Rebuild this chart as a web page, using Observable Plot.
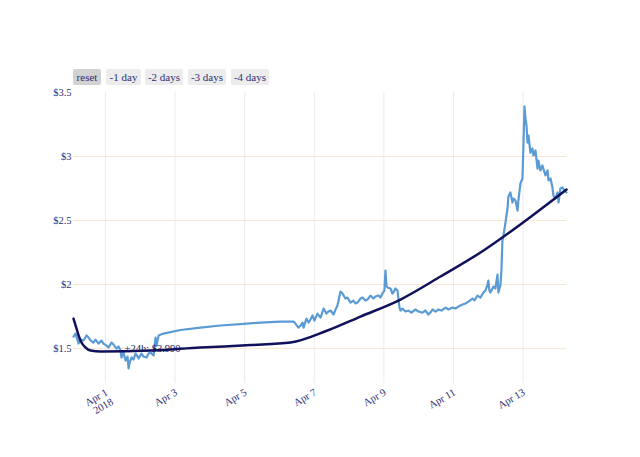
<!DOCTYPE html>
<html><head><meta charset="utf-8">
<script src="https://cdn.jsdelivr.net/npm/d3@7"></script>
<script src="https://cdn.jsdelivr.net/npm/@observablehq/plot@0.6"></script>
<style>
body{margin:0;background:#fff;font-family:"Liberation Serif",serif}
#wrap{position:relative;width:640px;height:457px}
.btn{position:absolute;top:69px;height:16px;line-height:16px;font-size:11px;color:#2f2f78;background:#ececec;border-radius:2px;text-align:center}
.btn.active{background:#d2d2d2}
</style></head><body>
<div id="wrap"></div>
<script>
// hours since 2018-03-31 00:00 UTC
const priceHours = [1.9,3.3,5.4,6.8,8.8,10.9,12.3,13.7,15.7,17.1,19.2,21.2,22.6,24.7,26.1,28.1,29.5,31.6,33.0,34.3,35.0,36.4,37.8,39.2,39.9,40.6,42.0,43.3,44.7,46.1,46.8,48.8,50.2,52.3,53.7,55.0,57.1,58.5,59.2,60.6,64.0,
 75.7,89.5,103.3,117.1,130.9,144.7,151.6,153.7,
 155.0,157.1,158.5,159.9,160.6,162.6,164.0,165.4,166.8,168.1,170.2,172.3,174.4,176.4,177.8,179.2,181.3,182.7,184.0,186.1,187.5,189.5,190.9,193.0,195.0,196.4,197.8,199.9,201.2,203.3,204.7,206.8,208.8,210.2,212.3,213.7,215.0,216.4,217.1,217.8,218.5,220.6,221.9,222.6,224.0,225.4,226.8,227.5,228.8,230.9,233.0,235.0,237.8,239.9,242.6,244.7,246.7,248.1,249.5,251.6,253.7,255.8,258.5,260.6,263.3,265.4,267.5,270.2,272.3,274.4,277.1,278.5,280.6,282.6,284.7,286.1,287.5,288.1,288.8,289.5,291.6,292.9,294.4,295.0,296.4,297.1,297.8,298.5,299.9,301.3,301.9,303.3,304.7,305.4,306.8,308.2,308.8,310.2,311.6,312.3,313.0,313.7,314.4,315.1,315.8,317.1,318.5,319.2,320.6,322.0,322.6,324.0,325.4,327.5,328.9,329.6,331.0,332.3,333.0,334.4,335.8,336.5,337.8,339.2,340.6,342.0];
const priceValues = [1.594,1.617,1.539,1.570,1.5625,1.602,1.586,1.5625,1.547,1.570,1.539,1.5625,1.539,1.523,1.508,1.547,1.531,1.5,1.516,1.484,1.430,1.469,1.406,1.4375,1.344,1.391,1.430,1.414,1.461,1.4375,1.422,1.461,1.4375,1.430,1.461,1.469,1.445,1.586,1.523,1.602,1.617,
 1.645,1.664,1.68,1.691,1.703,1.711,1.711,1.711,
 1.695,1.664,1.680,1.703,1.664,1.734,1.703,1.727,1.758,1.719,1.773,1.742,1.8125,1.773,1.789,1.797,1.766,1.805,1.836,1.945,1.930,1.891,1.898,1.859,1.875,1.852,1.859,1.891,1.898,1.875,1.883,1.914,1.891,1.906,1.914,1.898,1.930,1.953,2.109,1.992,1.977,1.969,1.930,1.9375,1.969,1.953,1.820,1.797,1.8125,1.789,1.797,1.781,1.805,1.789,1.781,1.797,1.766,1.781,1.805,1.789,1.805,1.797,1.820,1.805,1.820,1.8125,1.828,1.844,1.852,1.867,1.891,1.875,1.914,1.898,1.9375,1.953,2.0,2.031,1.953,1.9375,1.984,1.969,2.078,1.9375,1.992,2.109,2.344,2.383,2.484,2.594,2.6875,2.719,2.641,2.672,2.656,2.578,2.656,2.789,2.828,3.086,3.391,3.297,3.242,3.109,3.164,3.031,3.0625,3.008,3.047,2.906,2.969,2.891,2.930,2.852,2.891,2.8125,2.828,2.758,2.695,2.672,2.719,2.641,2.75,2.758,2.734,2.719];
const trendHours = [1.9,4.0,5.4,7.4,10.2,13.7,20.6,55.0,89.5,124.0,151.6,177.1,199.9,227.5,255.1,284.8,310.2,342.0];
const trendValues = [1.734,1.656,1.602,1.547,1.508,1.484,1.477,1.484,1.508,1.527,1.547,1.641,1.75,1.883,2.0625,2.266,2.469,2.742];
const tickHours = [24,72,120,168,216,264,312];
const tickLabels = ["Apr 1\n2018","Apr 3","Apr 5","Apr 7","Apr 9","Apr 11","Apr 13"];
const yTicks = [1.5,2,2.5,3,3.5];
const yTickLabels = ["$1.5","$2","$2.5","$3","$3.5"];
const gridValues = [1.5,2,2.5,3];
const buttonLabels = ["reset","-1 day","-2 days","-3 days","-4 days"];
const annotationHours = 56.4, annotationValue = 1.5, annotationText = "+24h: $3.990";

const t0 = Date.UTC(2018,2,31);
const toDate = h => new Date(t0 + h*3600e3);
const price = priceHours.map((h,i)=>({date:toDate(h), value:priceValues[i]}));
const trend = trendHours.map((h,i)=>({date:toDate(h), value:trendValues[i]}));
const ticks = tickHours.map((h,i)=>({date:toDate(h), label:tickLabels[i]}));

const txt = "#2f2f78";
const chart = Plot.plot({
  width:640, height:457, marginLeft:73, marginRight:74, marginTop:92, marginBottom:74,
  style:{fontFamily:"'Liberation Serif', serif", fontSize:"10.5px", color:txt, background:"white"},
  x:{type:"utc", domain:[toDate(priceHours[0]), toDate(priceHours[priceHours.length-1])], axis:null},
  y:{domain:[1.227,3.5], ticks:yTicks, tickSize:0, tickPadding:2, label:null,
     tickFormat:d=>yTickLabels[yTicks.indexOf(d)]},
  marks:[
    Plot.ruleX(ticks,{x:"date", stroke:"#ebebeb", strokeWidth:1}),
    Plot.ruleY(gridValues,{stroke:"#fbe6d2", strokeWidth:1}),
    Plot.line(price,{x:"date", y:"value", stroke:"#5b9bd5", strokeWidth:2.2}),
    Plot.line(trend,{x:"date", y:"value", stroke:"#10105c", strokeWidth:2.5, curve:"monotone-x"}),
    Plot.text([0],{x:()=>toDate(annotationHours), y:()=>annotationValue, text:()=>annotationText, fill:"#1a1a5e", fontSize:10.5}),
    Plot.text(ticks,{x:"date", frameAnchor:"bottom", text:"label", rotate:-30, textAnchor:"end", lineAnchor:"top", dx:-1, dy:4, fill:txt, fontSize:10.5, lineHeight:1.05})
  ]
});
const wrap = document.getElementById("wrap");
wrap.appendChild(chart);
const btnPos = [[73,28],[106,35],[145,38],[188,38],[231,38]];
buttonLabels.forEach((b,i)=>{
  const d=document.createElement("div");
  d.className="btn"+(i===0?" active":"");
  d.style.left=btnPos[i][0]+"px"; d.style.width=btnPos[i][1]+"px";
  d.textContent=b; wrap.appendChild(d);
});
</script>
</body></html>
